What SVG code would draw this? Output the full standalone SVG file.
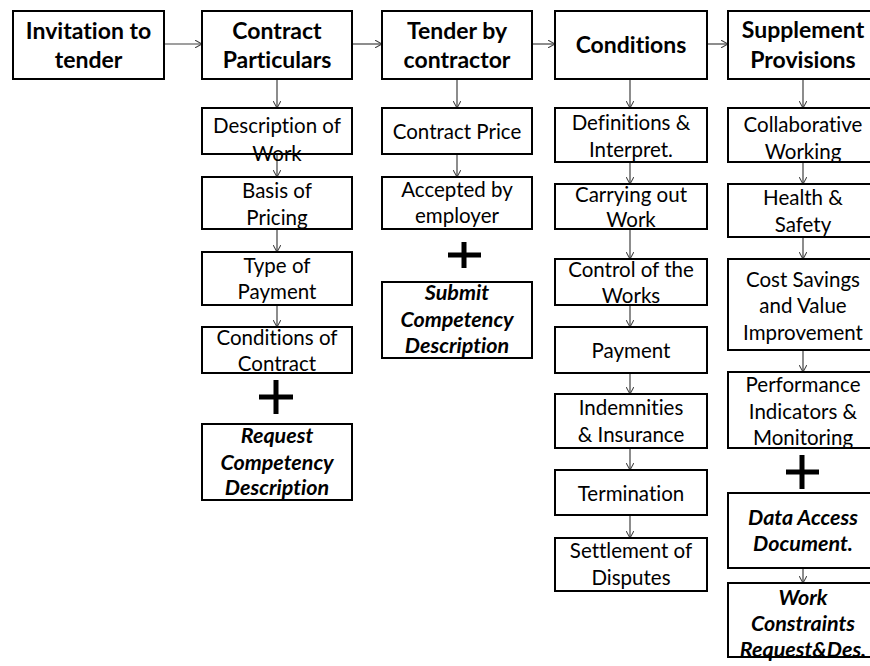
<svg xmlns="http://www.w3.org/2000/svg" width="870" height="666" viewBox="0 0 870 666">
<style>
text{font-family:Lato,"Liberation Sans",sans-serif;text-anchor:middle;fill:#000;font-variant-ligatures:none}
.box{fill:#fff;stroke:#000;stroke-width:2}
.h{font-weight:bold;font-size:23px}
.t{font-size:20.5px}
.bi{font-weight:bold;font-style:italic;font-size:21.5px}
.c{stroke:#404040;stroke-width:1.2;fill:none;marker-end:url(#ah)}
.plus{stroke:#000;stroke-width:5;fill:none}
</style>
<defs>
<marker id="ah" viewBox="0 0 10 10" refX="9" refY="5" markerWidth="8" markerHeight="8" markerUnits="userSpaceOnUse" orient="auto">
<path d="M0,0 L9,5 L0,10" fill="none" stroke="#404040" stroke-width="1.3"/>
</marker>
</defs>
<rect width="870" height="666" fill="#fff"/>
<g id="connectors">
<line class="c" x1="164" y1="44" x2="202" y2="44"/>
<line class="c" x1="352" y1="44" x2="382" y2="44"/>
<line class="c" x1="532" y1="44" x2="555" y2="44"/>
<line class="c" x1="707" y1="44" x2="728" y2="44"/>
<line class="c" x1="277" y1="79" x2="277" y2="108"/>
<line class="c" x1="277" y1="154" x2="277" y2="177"/>
<line class="c" x1="277" y1="229" x2="277" y2="252"/>
<line class="c" x1="277" y1="305" x2="277" y2="327"/>
<line class="c" x1="457" y1="79" x2="457" y2="108"/>
<line class="c" x1="457" y1="154" x2="457" y2="177"/>
<line class="c" x1="630" y1="79" x2="630" y2="108"/>
<line class="c" x1="630" y1="162" x2="630" y2="184"/>
<line class="c" x1="630" y1="229" x2="630" y2="259"/>
<line class="c" x1="630" y1="305" x2="630" y2="327"/>
<line class="c" x1="630" y1="373" x2="630" y2="394"/>
<line class="c" x1="630" y1="448" x2="630" y2="470"/>
<line class="c" x1="630" y1="515" x2="630" y2="538"/>
<line class="c" x1="803" y1="79" x2="803" y2="108"/>
<line class="c" x1="803" y1="162" x2="803" y2="184"/>
<line class="c" x1="803" y1="237" x2="803" y2="259"/>
<line class="c" x1="803" y1="350" x2="803" y2="372"/>
<line class="c" x1="803" y1="568" x2="803" y2="583"/>
</g>
<g id="n-invitation"><rect class="box" x="13" y="11" width="151" height="68"/><text class="h" x="88.5" y="39">Invitation to</text><text class="h" x="88.5" y="68">tender</text></g>
<g id="n-particulars"><rect class="box" x="202" y="11" width="150" height="68"/><text class="h" x="277" y="39">Contract</text><text class="h" x="277" y="68">Particulars</text></g>
<g id="n-tender"><rect class="box" x="382" y="11" width="150" height="68"/><text class="h" x="457" y="39">Tender by</text><text class="h" x="457" y="68">contractor</text></g>
<g id="n-conditions"><rect class="box" x="555" y="11" width="152" height="68"/><text class="h" x="631" y="53">Conditions</text></g>
<g id="n-supplement"><rect class="box" x="728" y="11" width="152" height="68"/><text class="h" x="803" y="38">Supplement</text><text class="h" x="803" y="68">Provisions</text></g>

<g id="n-description"><rect class="box" x="202" y="108" width="150" height="46"/><text class="t" x="277" y="133">Description of</text><text class="t" x="277" y="161">Work</text></g>
<g id="n-basis"><rect class="box" x="202" y="177" width="150" height="52"/><text class="t" x="277" y="198">Basis of</text><text class="t" x="277" y="225">Pricing</text></g>
<g id="n-type"><rect class="box" x="202" y="252" width="150" height="53"/><text class="t" x="277" y="273">Type of</text><text class="t" x="277" y="299">Payment</text></g>
<g id="n-condcontract"><rect class="box" x="202" y="327" width="150" height="46"/><text class="t" x="277" y="345">Conditions of</text><text class="t" x="277" y="371">Contract</text></g>
<g id="plus-1"><path class="plus" d="M259,397 H293 M276,380 V414"/></g>
<g id="n-request"><rect class="box" x="202" y="424" width="150" height="76"/><text class="bi" x="277" y="443">Request</text><text class="bi" x="277" y="470">Competency</text><text class="bi" x="277" y="495">Description</text></g>

<g id="n-price"><rect class="box" x="382" y="108" width="150" height="46"/><text class="t" x="457" y="139">Contract Price</text></g>
<g id="n-accepted"><rect class="box" x="382" y="177" width="150" height="52"/><text class="t" x="457" y="197">Accepted by</text><text class="t" x="457" y="223">employer</text></g>
<g id="plus-2"><path class="plus" d="M448,255 H481 M464,242 V268"/></g>
<g id="n-submit"><rect class="box" x="382" y="282" width="150" height="76"/><text class="bi" x="457" y="300">Submit</text><text class="bi" x="457" y="327">Competency</text><text class="bi" x="457" y="353">Description</text></g>

<g id="n-definitions"><rect class="box" x="555" y="108" width="152" height="54"/><text class="t" x="631" y="130">Definitions &amp;</text><text class="t" x="631" y="157">Interpret.</text></g>
<g id="n-carrying"><rect class="box" x="555" y="184" width="152" height="45"/><text class="t" x="631" y="202">Carrying out</text><text class="t" x="631" y="227">Work</text></g>
<g id="n-control"><rect class="box" x="555" y="259" width="152" height="46"/><text class="t" x="631" y="277">Control of the</text><text class="t" x="631" y="303">Works</text></g>
<g id="n-payment"><rect class="box" x="555" y="327" width="152" height="46"/><text class="t" x="631" y="358">Payment</text></g>
<g id="n-indemnities"><rect class="box" x="555" y="394" width="152" height="54"/><text class="t" x="631" y="415">Indemnities</text><text class="t" x="631" y="442">&amp; Insurance</text></g>
<g id="n-termination"><rect class="box" x="555" y="470" width="152" height="45"/><text class="t" x="631" y="501">Termination</text></g>
<g id="n-settlement"><rect class="box" x="555" y="538" width="152" height="53"/><text class="t" x="631" y="558">Settlement of</text><text class="t" x="631" y="585">Disputes</text></g>

<g id="n-collaborative"><rect class="box" x="728" y="108" width="152" height="54"/><text class="t" x="803" y="132">Collaborative</text><text class="t" x="803" y="159">Working</text></g>
<g id="n-health"><rect class="box" x="728" y="184" width="152" height="53"/><text class="t" x="803" y="205">Health &amp;</text><text class="t" x="803" y="232">Safety</text></g>
<g id="n-cost"><rect class="box" x="728" y="259" width="152" height="91"/><text class="t" x="803" y="287">Cost Savings</text><text class="t" x="803" y="313">and Value</text><text class="t" x="803" y="340">Improvement</text></g>
<g id="n-performance"><rect class="box" x="728" y="372" width="152" height="76"/><text class="t" x="803" y="392">Performance</text><text class="t" x="803" y="419">Indicators &amp;</text><text class="t" x="803" y="445">Monitoring</text></g>
<g id="plus-3"><path class="plus" d="M786,472 H819 M802,455 V489"/></g>
<g id="n-data"><rect class="box" x="728" y="493" width="152" height="75"/><text class="bi" x="803" y="525">Data Access</text><text class="bi" x="803" y="551">Document.</text></g>
<g id="n-work"><rect class="box" x="728" y="583" width="152" height="74"/><text class="bi" x="803" y="605">Work</text><text class="bi" x="803" y="631">Constraints</text><text class="bi" x="803" y="657">Request&amp;Des.</text></g>
</svg>
